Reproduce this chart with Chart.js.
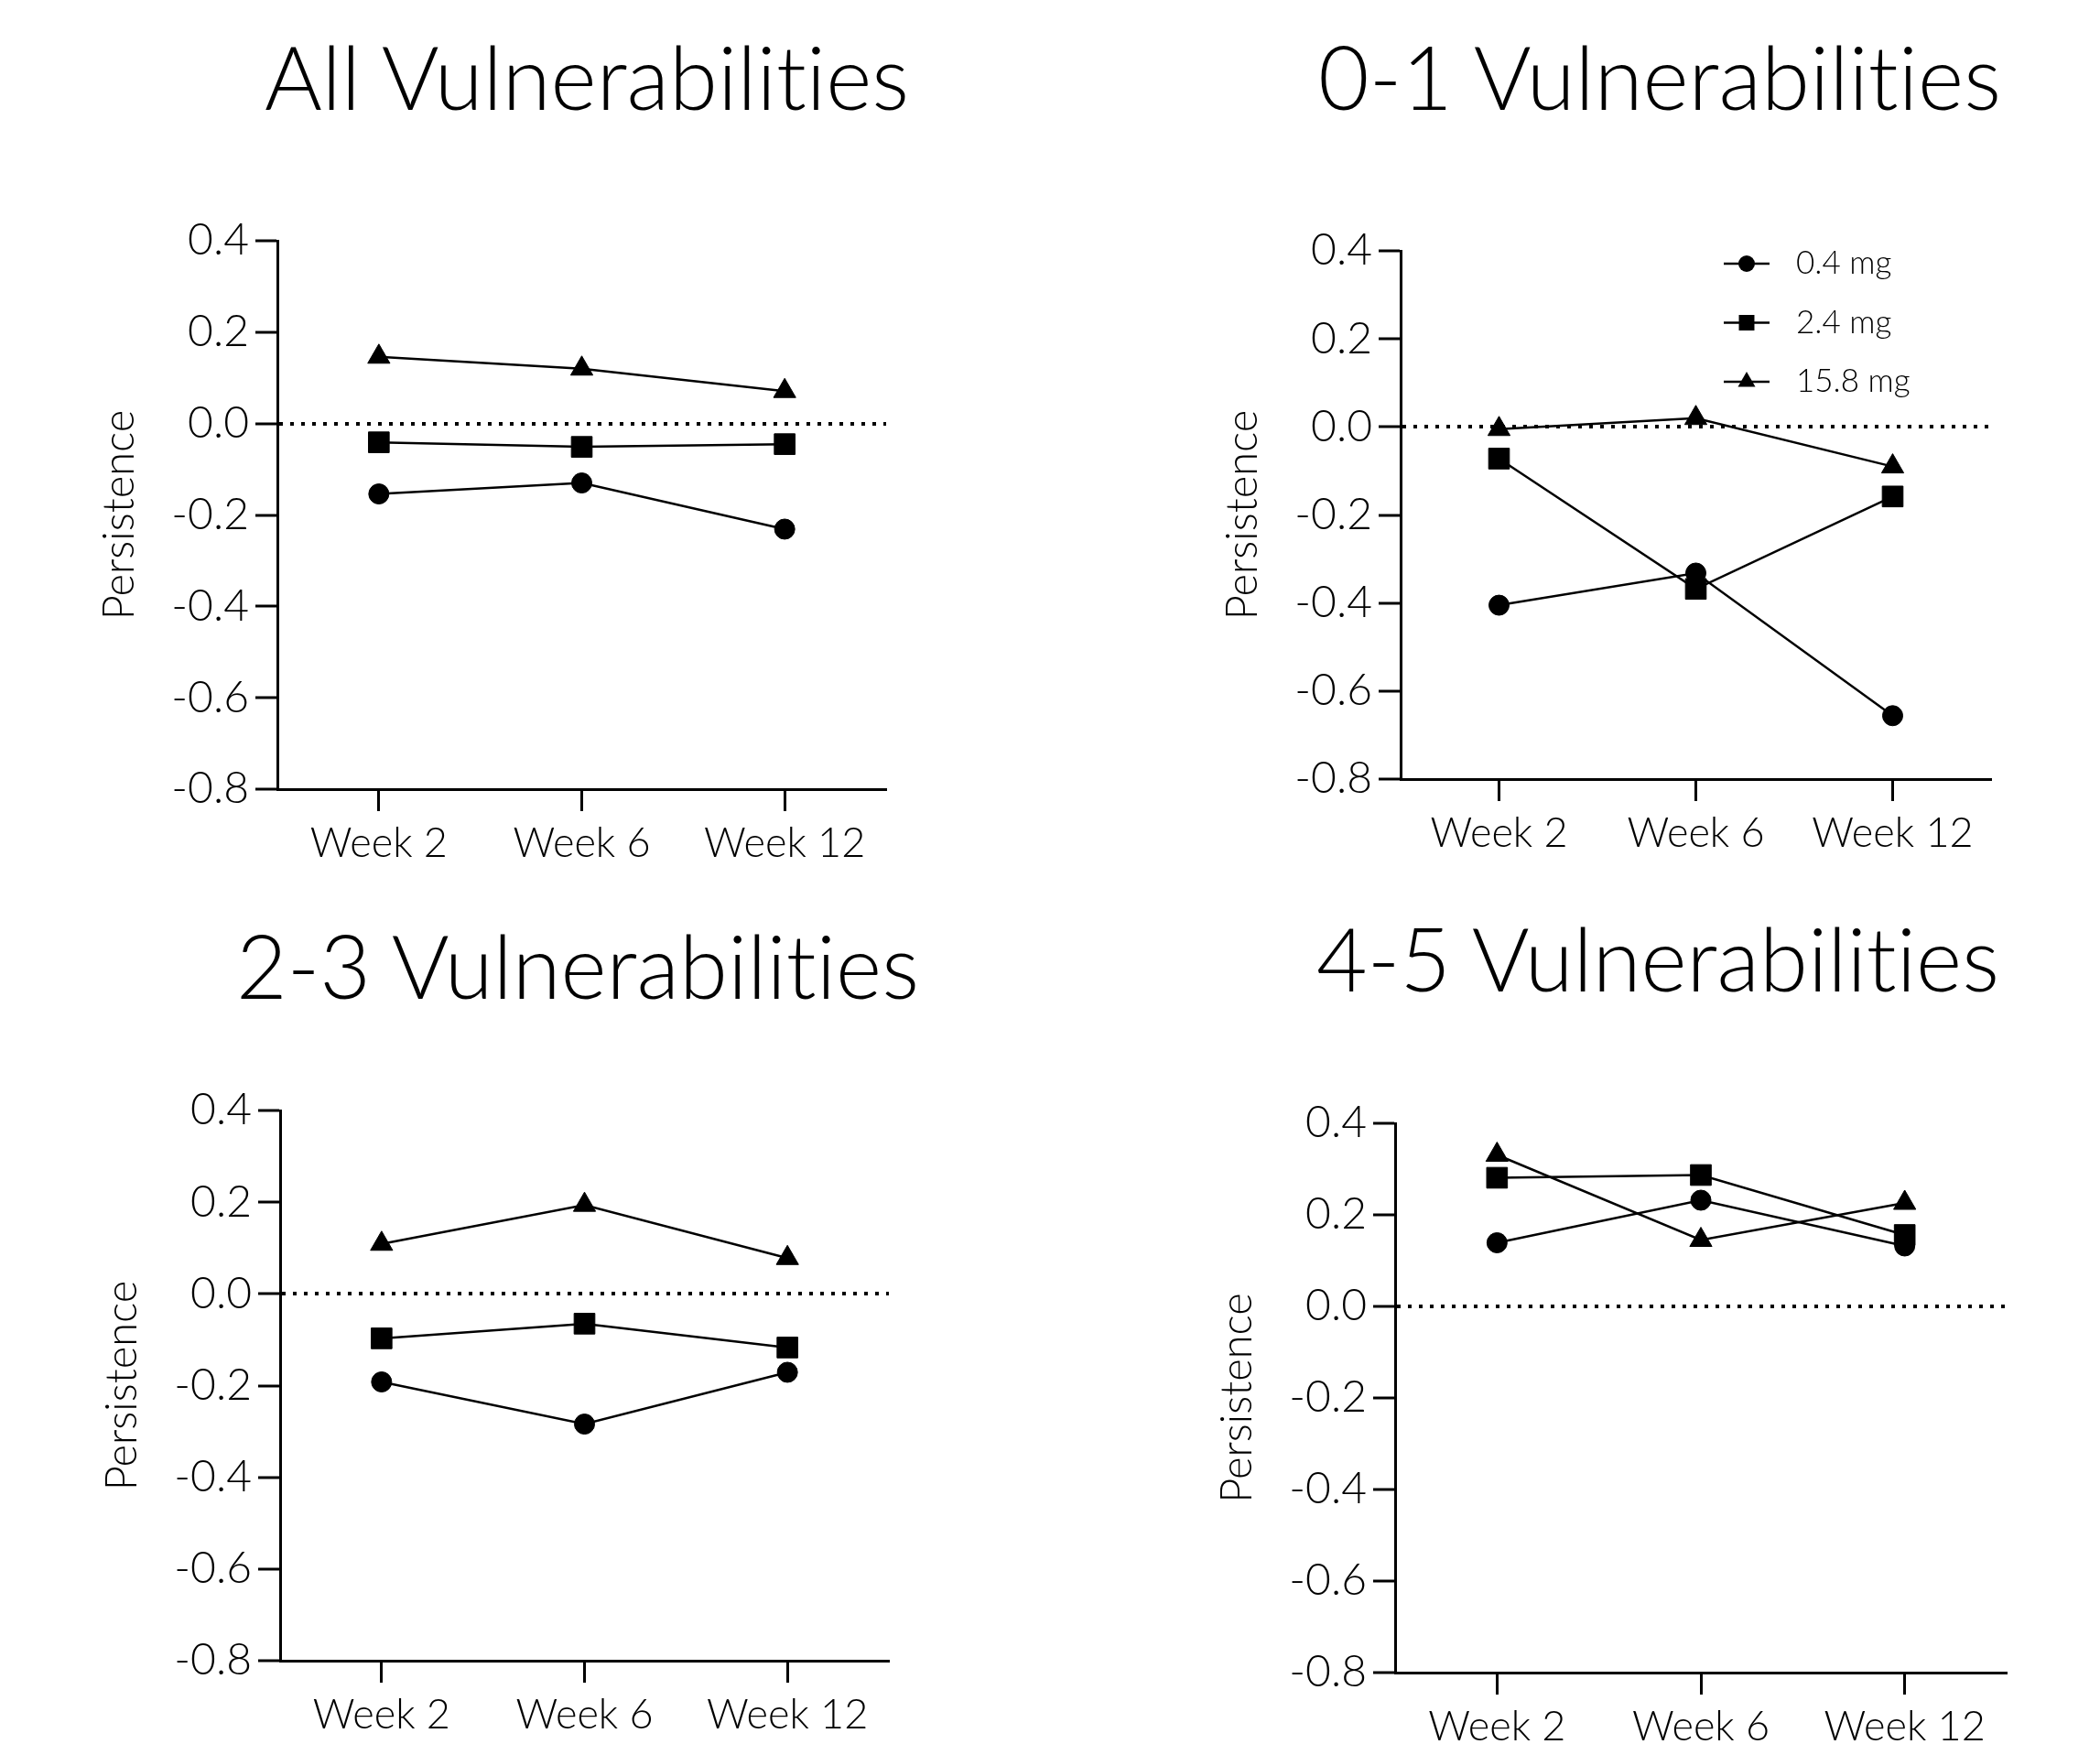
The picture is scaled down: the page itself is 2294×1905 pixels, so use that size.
<!DOCTYPE html>
<html>
<head>
<meta charset="utf-8">
<script src="https://cdn.jsdelivr.net/npm/chart.js@4"></script>
<style>
  html, body { margin: 0; padding: 0; background: #fff; overflow: hidden; }
  body { width: 2294px; height: 1905px; position: relative; }
  .panel { position: absolute; }
  .ptitle {
    position: absolute;
    width: 1000px;
    margin-left: -500px;
    text-align: center;
    font-family: Lato, 'Open Sans', sans-serif;
    font-weight: 300;
    font-size: 96px;
    line-height: 1.2;
    color: #000;
    white-space: nowrap;
    font-variant-ligatures: none;
    font-feature-settings: "liga" 0, "clig" 0, "dlig" 0;
  }
</style>
</head>
<body>
<div class="ptitle" id="t1"></div>
<div class="ptitle" id="t2"></div>
<div class="ptitle" id="t3"></div>
<div class="ptitle" id="t4"></div>
<div class="panel" id="p1"><canvas id="c1"></canvas></div>
<div class="panel" id="p2"><canvas id="c2"></canvas></div>
<div class="panel" id="p3"><canvas id="c3"></canvas></div>
<div class="panel" id="p4"><canvas id="c4"></canvas></div>
<script>
// -------------------------------
// DATA
// -------------------------------
const weeks = ["Week 2", "Week 6", "Week 12"];
const doseLabels = ["0.4 mg", "2.4 mg", "15.8 mg"];
const yTicks = [-0.8, -0.6, -0.4, -0.2, 0.0, 0.2, 0.4];

// All vulnerabilities
const allLow = [-0.154, -0.130, -0.231];
const allMid = [-0.041, -0.051, -0.045];
const allHigh = [0.146, 0.120, 0.071];

// 0-1 vulnerabilities
const v01Low = [-0.405, -0.332, -0.656];
const v01Mid = [-0.072, -0.368, -0.158];
const v01High = [-0.005, 0.020, -0.090];

// 2-3 vulnerabilities
const v23Low = [-0.192, -0.284, -0.171];
const v23Mid = [-0.097, -0.065, -0.117];
const v23High = [0.109, 0.194, 0.078];

// 4-5 vulnerabilities
const v45Low = [0.139, 0.232, 0.132];
const v45Mid = [0.281, 0.287, 0.156];
const v45High = [0.331, 0.145, 0.226];

// -------------------------------
// LAYOUT (page pixels)
// -------------------------------
const FONT = "Lato, 'Open Sans', sans-serif";
const Y_AXIS_W = 200;   // room for tick labels + "Persistence"
const X_AXIS_H = 110;   // room for tick marks + week labels
const PAD_TOP = 40;
const PAD_RIGHT = 20;

// axisX / plotTop / plotBottom / plotRight = where the axes sit on the page
const panels = [
  { id: "c1", box: "p1", tid: "t1", title: "All Vulnerabilities", series: [allLow, allMid, allHigh],
    axisX: 303, plotTop: 263, plotBottom: 862, plotRight: 968, titleX: 641, titleTop: 25, legend: false },
  { id: "c2", box: "p2", tid: "t2", title: "0-1 Vulnerabilities", series: [v01Low, v01Mid, v01High],
    axisX: 1530, plotTop: 274, plotBottom: 851, plotRight: 2175, titleX: 1813, titleTop: 25, legend: true },
  { id: "c3", box: "p3", tid: "t3", title: "2-3 Vulnerabilities", series: [v23Low, v23Mid, v23High],
    axisX: 306, plotTop: 1213, plotBottom: 1814, plotRight: 971, titleX: 631, titleTop: 996, legend: false },
  { id: "c4", box: "p4", tid: "t4", title: "4-5 Vulnerabilities", series: [v45Low, v45Mid, v45High],
    axisX: 1524, plotTop: 1227, plotBottom: 1827, plotRight: 2192, titleX: 1811, titleTop: 988, legend: false },
];

const markerStyles = ["circle", "rect", "triangle"];
const markerRadius = [11, 16, 14];
const legendRadius = [9, 12, 11];

// -------------------------------
// LEGEND INSIDE THE PLOT
// -------------------------------
const insideLegend = {
  id: "insideLegend",
  afterDraw(chart, args, opts) {
    if (!opts.show) return;
    const ctx = chart.ctx;
    chart.data.datasets.forEach((ds, i) => {
      const y = opts.y + i * opts.rowGap;
      ctx.save();
      ctx.strokeStyle = "#000";
      ctx.lineWidth = 2.5;
      ctx.beginPath();
      ctx.moveTo(opts.x, y);
      ctx.lineTo(opts.x + opts.lineLen, y);
      ctx.stroke();
      ctx.fillStyle = "#000";
      Chart.helpers.drawPoint(ctx, {
        pointStyle: ds.pointStyle, rotation: 0, radius: legendRadius[i], borderWidth: 0
      }, opts.x + opts.lineLen / 2, y);
      ctx.font = "300 35px " + FONT;
      ctx.textBaseline = "middle";
      ctx.fillText(ds.label, opts.x + opts.textOff, y);
      ctx.restore();
    });
  }
};

// -------------------------------
// CHARTS
// -------------------------------
function makeChart(p) {
  const t = document.getElementById(p.tid);
  t.textContent = p.title;
  t.style.left = p.titleX + "px";
  t.style.top = p.titleTop + "px";

  const left = p.axisX - Y_AXIS_W;
  const top = p.plotTop - PAD_TOP;
  const wrap = document.getElementById(p.box);
  wrap.style.left = left + "px";
  wrap.style.top = top + "px";
  wrap.style.width = (p.plotRight + PAD_RIGHT - left) + "px";
  wrap.style.height = (p.plotBottom + X_AXIS_H - top) + "px";

  const datasets = p.series.map((vals, i) => ({
    label: doseLabels[i],
    data: vals,
    borderColor: "#000",
    backgroundColor: "#000",
    borderWidth: 2.5,
    tension: 0,
    pointStyle: markerStyles[i],
    pointRadius: markerRadius[i],
    pointBackgroundColor: "#000",
    pointBorderColor: "#000",
    pointBorderWidth: 1,
    clip: false,
  }));

  return new Chart(document.getElementById(p.id), {
    type: "line",
    data: { labels: weeks, datasets: datasets },
    plugins: [insideLegend],
    options: {
      responsive: true,
      maintainAspectRatio: false,
      animation: false,
      layout: { padding: { left: 0, right: PAD_RIGHT, top: PAD_TOP, bottom: 0 } },
      plugins: {
        legend: { display: false },
        tooltip: { enabled: false },
        title: { display: false },
        insideLegend: { show: p.legend, x: 553, y: 288 - top, rowGap: 64.5, lineLen: 50, textOff: 79 },
      },
      scales: {
        x: {
          type: "category",
          offset: true,
          afterFit: (s) => { s.height = X_AXIS_H; },
          grid: {
            display: true,
            drawOnChartArea: false,
            drawTicks: true,
            tickLength: 24,
            tickWidth: 3,
            tickColor: "#000",
            offset: false,
          },
          border: { display: true, color: "#000", width: 3 },
          ticks: {
            color: "#000",
            padding: 8,
            font: { family: FONT, size: 45, weight: "300" },
            maxRotation: 0,
          },
        },
        y: {
          min: -0.8,
          max: 0.4,
          afterFit: (s) => { s.width = Y_AXIS_W; },
          afterBuildTicks: (s) => { s.ticks = yTicks.map((v) => ({ value: v })); },
          grid: {
            display: true,
            drawOnChartArea: true,
            drawTicks: true,
            tickLength: 24,
            tickWidth: 3,
            tickColor: "#000",
            lineWidth: 4,
            // only the zero line is shown, dotted
            color: (c) => (c.tick && Math.abs(c.tick.value) < 1e-9 ? "#000" : "rgba(0,0,0,0)"),
          },
          border: { display: true, color: "#000", width: 3, dash: [4, 8] },
          title: {
            display: true,
            text: "Persistence",
            color: "#000",
            font: { family: FONT, size: 47, weight: "300" },
            padding: { top: 0, bottom: 0 },
          },
          ticks: {
            color: "#000",
            padding: 7,
            font: { family: FONT, size: 48, weight: "300" },
            callback: (v) => Number(v).toFixed(1),
          },
        },
      },
    },
  });
}

panels.forEach(makeChart);
</script>
</body>
</html>
